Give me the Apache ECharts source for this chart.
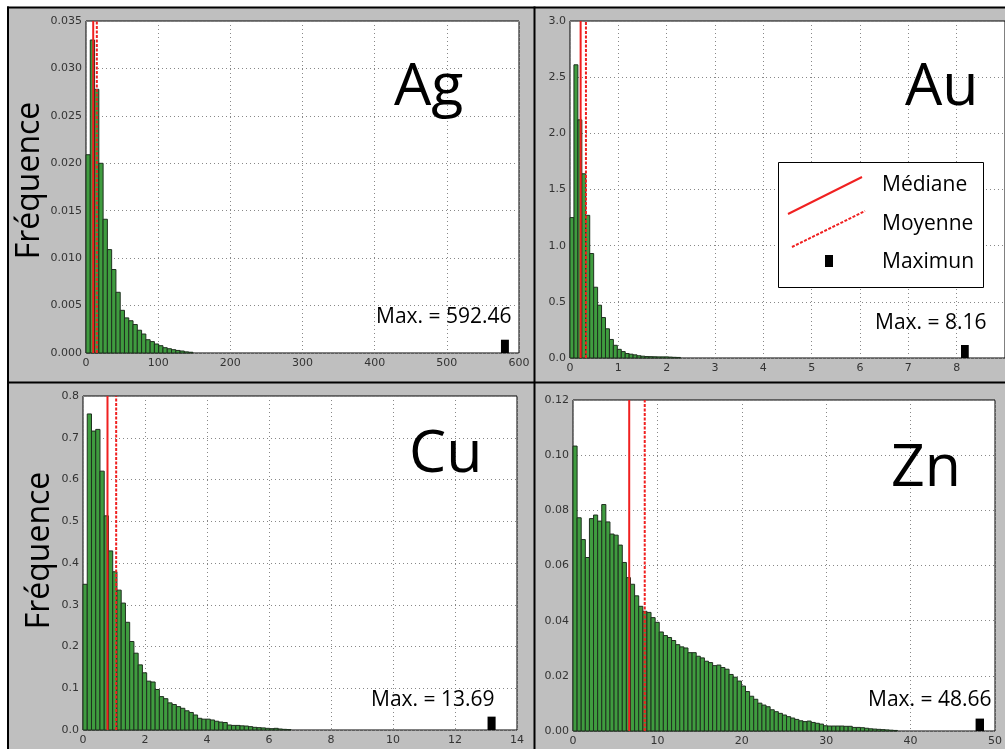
<!DOCTYPE html>
<html>
<head>
<meta charset="utf-8">
<script src="https://cdn.jsdelivr.net/npm/echarts@6/dist/echarts.min.js"></script>
<style>
html,body{margin:0;padding:0;background:#fff;}
#chart{width:1005px;height:749px;}
</style>
</head>
<body>
<div id="chart"></div>
<script>
// ---- Data ----
const elements = ['Ag', 'Au', 'Cu', 'Zn'];
const maxLabels = ['Max. = 592.46', 'Max. = 8.16', 'Max. = 13.69', 'Max. = 48.66'];

// histogram bin widths (100 bins from 0 to the maximum)
const binWidths = [5.9246, 0.0816, 0.1369, 0.4866];

const agValues = [0.0209, 0.0330, 0.0278, 0.0200, 0.0141, 0.0109, 0.0088, 0.0064, 0.0045, 0.0037,
  0.0034, 0.0030, 0.0024, 0.0020, 0.0014, 0.0012, 0.00095, 0.00077, 0.00056, 0.00045,
  0.00035, 0.00027, 0.00021, 0.00012, 0.00008];

const auValues = [1.25, 2.61, 2.12, 1.64, 1.27, 0.93, 0.63, 0.47, 0.36, 0.26,
  0.165, 0.113, 0.077, 0.057, 0.040, 0.034, 0.028, 0.020, 0.016, 0.013,
  0.012, 0.011, 0.010, 0.010, 0.010, 0.008, 0.006, 0.005];

const cuValues = [0.349, 0.757, 0.716, 0.720, 0.620, 0.513, 0.429, 0.379, 0.335, 0.304,
  0.258, 0.212, 0.184, 0.156, 0.137, 0.117, 0.115, 0.097, 0.080, 0.075,
  0.065, 0.061, 0.056, 0.052, 0.046, 0.042, 0.036, 0.028, 0.026, 0.026,
  0.024, 0.021, 0.019, 0.018, 0.012, 0.011, 0.011, 0.010, 0.0095, 0.008,
  0.0064, 0.0056, 0.005, 0.004, 0.0032, 0.004, 0.0024, 0.0016, 0.001];

const znValues = [0.1033, 0.0773, 0.0694, 0.0629, 0.0770, 0.0783, 0.0761, 0.0821, 0.0758, 0.0714,
  0.0710, 0.0674, 0.0611, 0.0556, 0.0532, 0.0490, 0.0452, 0.0434, 0.0430, 0.0411,
  0.0394, 0.0359, 0.0346, 0.0339, 0.0328, 0.0313, 0.0305, 0.0301, 0.0284, 0.0284,
  0.0271, 0.0265, 0.0253, 0.0248, 0.0237, 0.0239, 0.0230, 0.0224, 0.0205, 0.0195,
  0.0181, 0.0163, 0.0143, 0.0126, 0.0115, 0.0101, 0.0094, 0.0088, 0.0077, 0.0070,
  0.0064, 0.0058, 0.0052, 0.0047, 0.0042, 0.0037, 0.0034, 0.0036, 0.0031, 0.0028,
  0.0025, 0.0019, 0.0018, 0.0018, 0.0018, 0.0018, 0.0017, 0.0017, 0.0013, 0.0013,
  0.0012, 0.0010, 0.0008, 0.0007, 0.0006, 0.0005, 0.0004, 0.0003, 0.0002];

const medians = [10, 0.22, 0.79, 6.66];
const means = [15, 0.33, 1.07, 8.5];

// maximum markers: [x start, x end, height]
const agMaxBar = [575, 586, 0.0014];
const auMaxBar = [8.09, 8.25, 0.116];
const cuMaxBar = [13.05, 13.31, 0.032];
const znMaxBar = [47.7, 48.7, 0.0045];

// axis scales: [min, max, interval]
const xScales = [[0, 600, 100], [0, 9, 1], [0, 14, 2], [0, 50, 10]];
const yScales = [[0, 0.035, 0.005], [0, 3.0, 0.5], [0, 0.8, 0.1], [0, 0.12, 0.02]];
const yDecimals = [3, 1, 1, 2];

const legendLabels = ['Médiane', 'Moyenne', 'Maximun'];

// ---- Layout ----
const grids = [
  {left: 86, top: 21, width: 433, height: 332},
  {left: 570, top: 21, width: 439, height: 337},
  {left: 83, top: 396, width: 434, height: 334},
  {left: 573, top: 400, width: 430, height: 331}
];

const allValues = [agValues, auValues, cuValues, znValues];
const maxBars = [agMaxBar, auMaxBar, cuMaxBar, znMaxBar];

function histRender(fill, stroke) {
  return function (params, api) {
    const x0 = api.value(0), x1 = api.value(1), y = api.value(2);
    const p0 = api.coord([x0, y]);
    const p1 = api.coord([x1, 0]);
    return {
      type: 'rect',
      shape: {x: p0[0], y: p0[1], width: p1[0] - p0[0], height: p1[1] - p0[1]},
      style: {fill: fill, stroke: stroke, lineWidth: stroke ? 1 : 0}
    };
  };
}

const gridLine = {show: true, lineStyle: {type: [1, 3], color: '#888', width: 1}};

const xAxes = [], yAxes = [], series = [];
for (let i = 0; i < 4; i++) {
  xAxes.push({
    type: 'value', gridIndex: i,
    min: xScales[i][0], max: xScales[i][1], interval: xScales[i][2],
    axisLine: {show: false}, axisTick: {show: false},
    axisLabel: {fontFamily: 'DejaVu Sans', fontSize: 11, color: '#333', margin: 5,
      showMaxLabel: i !== 1},
    splitLine: gridLine
  });
  const dec = yDecimals[i];
  yAxes.push({
    type: 'value', gridIndex: i,
    min: yScales[i][0], max: yScales[i][1], interval: yScales[i][2],
    axisLine: {show: false}, axisTick: {show: false},
    axisLabel: {fontFamily: 'DejaVu Sans', fontSize: 11, color: '#333', margin: 4,
      formatter: v => v.toFixed(dec)},
    splitLine: gridLine
  });
  const bw = binWidths[i];
  series.push({
    type: 'custom', xAxisIndex: i, yAxisIndex: i,
    renderItem: histRender('#3f9c3f', '#1f2f1f'),
    encode: {x: [0, 1], y: 2},
    data: allValues[i].map((v, k) => [k * bw, (k + 1) * bw, v]),
    z: 2, silent: true
  });
  series.push({
    type: 'custom', xAxisIndex: i, yAxisIndex: i,
    renderItem: histRender('#000', null),
    encode: {x: [0, 1], y: 2},
    data: [maxBars[i]],
    z: 3, silent: true
  });
  const ymax = yScales[i][1];
  series.push({
    type: 'line', xAxisIndex: i, yAxisIndex: i, symbol: 'none', silent: true, z: 4,
    lineStyle: {color: '#f02020', width: 2},
    data: [[medians[i], 0], [medians[i], ymax]]
  });
  series.push({
    type: 'line', xAxisIndex: i, yAxisIndex: i, symbol: 'none', silent: true, z: 4,
    lineStyle: {color: '#f02020', width: 2, type: [3, 1.5]},
    data: [[means[i], 0], [means[i], ymax]]
  });
}

const textFont = '"Open Sans", "Noto Sans", sans-serif';
function txt(str, x, baseline, size, align) {
  return {
    type: 'text', x: x, y: baseline - 0.37 * size, z: 100,
    style: {text: str, fill: '#000', font: size + 'px ' + textFont,
      textAlign: align || 'left', textVerticalAlign: 'middle'}
  };
}

const bigPos = [[394, 110], [905, 110], [409, 477], [891, 491]];
const maxPos = [[376, 325], [875, 331], [371, 708], [868, 708]];

const graphic = [
  {type: 'rect', shape: {x: 0, y: 0, width: 1005, height: 7}, style: {fill: '#fff'}, z: -1},
  {type: 'rect', shape: {x: 0, y: 0, width: 7, height: 749}, style: {fill: '#fff'}, z: -1},
  {type: 'rect', shape: {x: 7, y: 6.5, width: 998, height: 2}, style: {fill: '#000'}, z: 1},
  {type: 'rect', shape: {x: 7, y: 6.5, width: 2, height: 743}, style: {fill: '#000'}, z: 1},
  {type: 'rect', shape: {x: 533.5, y: 6.5, width: 2, height: 743}, style: {fill: '#000'}, z: 1},
  {type: 'rect', shape: {x: 7, y: 381.5, width: 998, height: 2}, style: {fill: '#000'}, z: 1}
];
for (let i = 0; i < 4; i++) {
  graphic.push(txt(elements[i], bigPos[i][0], bigPos[i][1], 59));
  graphic.push(txt(maxLabels[i], maxPos[i][0], maxPos[i][1], 21));
}
// y axis titles
graphic.push({type: 'text', x: 30, y: 180.5, rotation: Math.PI / 2, z: 100,
  style: {text: 'Fréquence', fill: '#000', font: '32px ' + textFont, textAlign: 'center', textVerticalAlign: 'middle'}});
graphic.push({type: 'text', x: 40, y: 550.5, rotation: Math.PI / 2, z: 100,
  style: {text: 'Fréquence', fill: '#000', font: '32px ' + textFont, textAlign: 'center', textVerticalAlign: 'middle'}});
// legend box
graphic.push({type: 'rect', shape: {x: 778.5, y: 162.5, width: 205, height: 125},
  style: {fill: '#fff', stroke: '#000', lineWidth: 1}, z: 90});
graphic.push({type: 'line', shape: {x1: 788, y1: 214, x2: 862, y2: 177},
  style: {stroke: '#f02020', lineWidth: 2}, z: 91});
graphic.push({type: 'line', shape: {x1: 792, y1: 247, x2: 865, y2: 211},
  style: {stroke: '#f02020', lineWidth: 2, lineDash: [3, 1.5]}, z: 91});
graphic.push({type: 'rect', shape: {x: 825, y: 255, width: 8, height: 12},
  style: {fill: '#000'}, z: 91});
graphic.push(txt(legendLabels[0], 882, 193, 21));
graphic.push(txt(legendLabels[1], 882, 232, 21));
graphic.push(txt(legendLabels[2], 882, 270, 21));

const option = {
  backgroundColor: '#bfbfbf',
  animation: false,
  grid: grids.map(g => Object.assign({show: true, backgroundColor: '#fff', borderColor: '#000', borderWidth: 1, containLabel: false}, g)),
  xAxis: xAxes,
  yAxis: yAxes,
  series: series,
  graphic: graphic
};

const chart = echarts.init(document.getElementById('chart'), null, {renderer: 'canvas'});
chart.setOption(option);
</script>
</body>
</html>
